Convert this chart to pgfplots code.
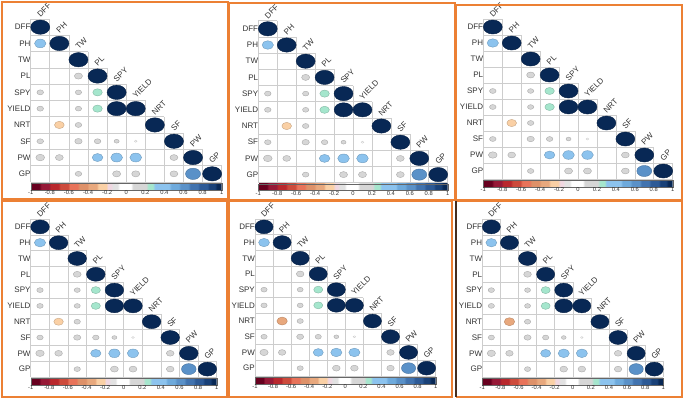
\documentclass[border=0pt]{standalone}
\usepackage{fontspec}
\setmainfont{Liberation Sans}
\usepackage{pgfplots}
\pgfplotsset{compat=1.18}
\usepackage{pgfplotstable}

\definecolor{frameor}{RGB}{236,128,52}
\definecolor{framedk}{RGB}{70,45,30}
\definecolor{lab}{RGB}{50,50,50}
\definecolor{cellgrid}{RGB}{205,205,205}

% stepped correlation palette, position = 100*(r+1)
\pgfplotsset{colormap={corr}{
 rgb255(0pt)=(103,0,31)    rgb255(9pt)=(103,0,31)
 rgb255(11pt)=(150,25,55)  rgb255(19pt)=(150,25,55)
 rgb255(21pt)=(185,40,45)  rgb255(29pt)=(185,40,45)
 rgb255(31pt)=(205,75,60)  rgb255(39pt)=(205,75,60)
 rgb255(41pt)=(232,115,90) rgb255(49pt)=(232,115,90)
 rgb255(51pt)=(222,145,105) rgb255(59pt)=(222,145,105)
 rgb255(61pt)=(232,168,125) rgb255(69pt)=(232,168,125)
 rgb255(71pt)=(250,208,165) rgb255(79pt)=(250,208,165)
 rgb255(81pt)=(240,215,225) rgb255(84pt)=(240,215,225)
 rgb255(86pt)=(226,226,226) rgb255(91pt)=(226,226,226)
 rgb255(93pt)=(255,255,255) rgb255(105pt)=(255,255,255)
 rgb255(107pt)=(214,214,214) rgb255(121pt)=(214,214,214)
 rgb255(123pt)=(165,230,205) rgb255(128pt)=(165,230,205)
 rgb255(130pt)=(140,195,238) rgb255(145pt)=(140,195,238)
 rgb255(147pt)=(110,170,220) rgb255(155pt)=(110,170,220)
 rgb255(157pt)=(90,145,200) rgb255(165pt)=(90,145,200)
 rgb255(167pt)=(65,115,175) rgb255(175pt)=(65,115,175)
 rgb255(177pt)=(45,90,150) rgb255(185pt)=(45,90,150)
 rgb255(187pt)=(25,65,120) rgb255(193pt)=(25,65,120)
 rgb255(195pt)=(8,40,85)   rgb255(200pt)=(8,40,85)
}}

% x = column, y = row (0 = DFF ... 9 = GP), r = correlation
\pgfplotstableread{
x y r
0 0 1
0 1 0.36
1 1 1
2 2 1
2 3 0.18
3 3 1
0 4 0.12
2 4 0.11
3 4 0.25
4 4 1
0 5 0.12
2 5 0.11
3 5 0.25
4 5 0.98
5 5 1
1 6 -0.26
2 6 0.12
6 6 1
0 7 0.12
2 7 0.15
3 7 0.12
4 7 0.07
5 7 0.02
7 7 1
0 8 0.21
1 8 0.17
3 8 0.31
4 8 0.38
5 8 0.38
7 8 0.17
8 8 1
2 9 0.12
4 9 0.18
5 9 0.18
7 9 0.17
8 9 0.62
9 9 1
}\dataA

\pgfplotstableread{
x y r
0 0 1
0 1 0.36
1 1 1
2 2 1
2 3 0.18
3 3 1
0 4 0.12
2 4 0.11
3 4 0.25
4 4 1
0 5 0.12
2 5 0.11
3 5 0.25
4 5 0.98
5 5 1
1 6 -0.33
2 6 0.12
6 6 1
0 7 0.12
2 7 0.15
3 7 0.12
4 7 0.07
5 7 0.02
7 7 1
0 8 0.21
1 8 0.17
3 8 0.31
4 8 0.38
5 8 0.38
7 8 0.17
8 8 1
2 9 0.12
4 9 0.18
5 9 0.18
7 9 0.17
8 9 0.62
9 9 1
}\dataB

\pgfplotstableread{
x y lab
0.02 -0.55 DFF
1.02 0.45 PH
2.02 1.45 TW
3.02 2.45 PL
4.02 3.45 SPY
5.02 4.45 YIELD
6.02 5.45 NRT
7.02 6.45 SF
8.02 7.45 PW
9.02 8.45 GP
}\collabels

% #1,#2 top-left of the cell block, #3,#4 cell width and height, #5 data
\newcommand\corrpanel[5]{%
\pgfmathsetmacro\cbw{10*#3}%
\pgfmathsetmacro\ry{0.44*#4}%
\pgfmathsetmacro\xs{0.5*#3/(0.44*#4)}%
\begin{axis}[
  at={(#1pt,#2pt)}, anchor=north west,
  x=#3pt, y=#4pt, y dir=reverse,
  xmin=-0.5, xmax=9.5, ymin=-0.5, ymax=9.5,
  axis line style={draw=none},
  xtick=\empty,
  ytick={0,...,9},
  yticklabels={DFF,PH,TW,PL,SPY,YIELD,NRT,SF,PW,GP},
  major tick length=0pt,
  yticklabel style={font=\fontsize{8}{9}\selectfont, text=lab, inner sep=0pt},
  clip=false,
  colormap name=corr,
  point meta min=-1, point meta max=1,
  colorbar horizontal,
  colorbar style={
    at={(parent axis.south west)}, anchor=north west, yshift=7.3pt,
    width=\cbw pt, height=6.5pt,
    xtick={-1,-0.8,-0.6,-0.4,-0.2,0,0.2,0.4,0.6,0.8,1},
    xticklabel style={font=\fontsize{5.8}{6}\selectfont, text=lab, inner sep=0.8pt},
    /pgf/number format/assume math mode=true,
    major tick length=0pt,
    axis line style={draw=black!60, line width=0.4pt},
  },
]
% lower-triangle cell outlines
\addplot[cellgrid, line width=0.6pt, unbounded coords=jump, forget plot] coordinates {
 (-0.5,-0.5) (0.5,-0.5) (nan,nan)
 (-0.5,0.5) (1.5,0.5) (nan,nan)
 (-0.5,1.5) (2.5,1.5) (nan,nan)
 (-0.5,2.5) (3.5,2.5) (nan,nan)
 (-0.5,3.5) (4.5,3.5) (nan,nan)
 (-0.5,4.5) (5.5,4.5) (nan,nan)
 (-0.5,5.5) (6.5,5.5) (nan,nan)
 (-0.5,6.5) (7.5,6.5) (nan,nan)
 (-0.5,7.5) (8.5,7.5) (nan,nan)
 (-0.5,8.5) (9.5,8.5) (nan,nan)
 (-0.5,9.5) (9.5,9.5) (nan,nan)
 (-0.5,-0.5) (-0.5,9.5) (nan,nan)
 (0.5,-0.5) (0.5,9.5) (nan,nan)
 (1.5,0.5) (1.5,9.5) (nan,nan)
 (2.5,1.5) (2.5,9.5) (nan,nan)
 (3.5,2.5) (3.5,9.5) (nan,nan)
 (4.5,3.5) (4.5,9.5) (nan,nan)
 (5.5,4.5) (5.5,9.5) (nan,nan)
 (6.5,5.5) (6.5,9.5) (nan,nan)
 (7.5,6.5) (7.5,9.5) (nan,nan)
 (8.5,7.5) (8.5,9.5) (nan,nan)
 (9.5,8.5) (9.5,9.5)
};
% circles: colour and area from r
\addplot[scatter, only marks, mark=*, scatter src=explicit,
  visualization depends on={sqrt(abs(\thisrow{r}))*\ry \as \rad},
  scatter/@pre marker code/.append style={/tikz/mark size=\rad pt},
  mark options={xscale=\xs}]
  table[x=x, y=y, meta=r] {#5};
% column names along the diagonal
\addplot[draw=none, mark=none, point meta=explicit symbolic, nodes near coords,
  every node near coord/.append style={rotate=45, anchor=south west,
    font=\fontsize{8}{9}\selectfont, text=lab, inner sep=0.4pt}]
  table[x=x, y=y, meta=lab] {\collabels};
\end{axis}}

\begin{document}
\begin{tikzpicture}
\useasboundingbox (0,0) rectangle (685pt,-401pt);
\fill[white] (0,0) rectangle (685pt,-401pt);

\corrpanel{30.7}{-19}{19.1}{16.3}{\dataA}
\corrpanel{258.3}{-20.7}{18.94}{16.2}{\dataA}
\corrpanel{483.3}{-19}{18.94}{16.0}{\dataA}
\corrpanel{30.7}{-219}{18.6}{15.8}{\dataA}
\corrpanel{255}{-219}{18.07}{15.7}{\dataB}
\corrpanel{482.3}{-219}{18.1}{15.8}{\dataB}

\begin{scope}[line width=1.4pt]
\draw[frameor] (2pt,-2pt) rectangle (228pt,-199pt);
\draw[frameor] (229pt,-3pt) rectangle (455pt,-200pt);
\draw[frameor] (456pt,-5pt) rectangle (682pt,-200pt);
\draw[frameor] (2pt,-201pt) rectangle (227pt,-397pt);
\draw[frameor] (229pt,-201pt) rectangle (452pt,-397pt);
\draw[frameor] (456pt,-201pt) -- (682pt,-201pt) -- (682pt,-397pt) -- (456pt,-397pt);
\draw[framedk] (456pt,-201pt) -- (456pt,-397pt);
\end{scope}
\end{tikzpicture}
\end{document}
